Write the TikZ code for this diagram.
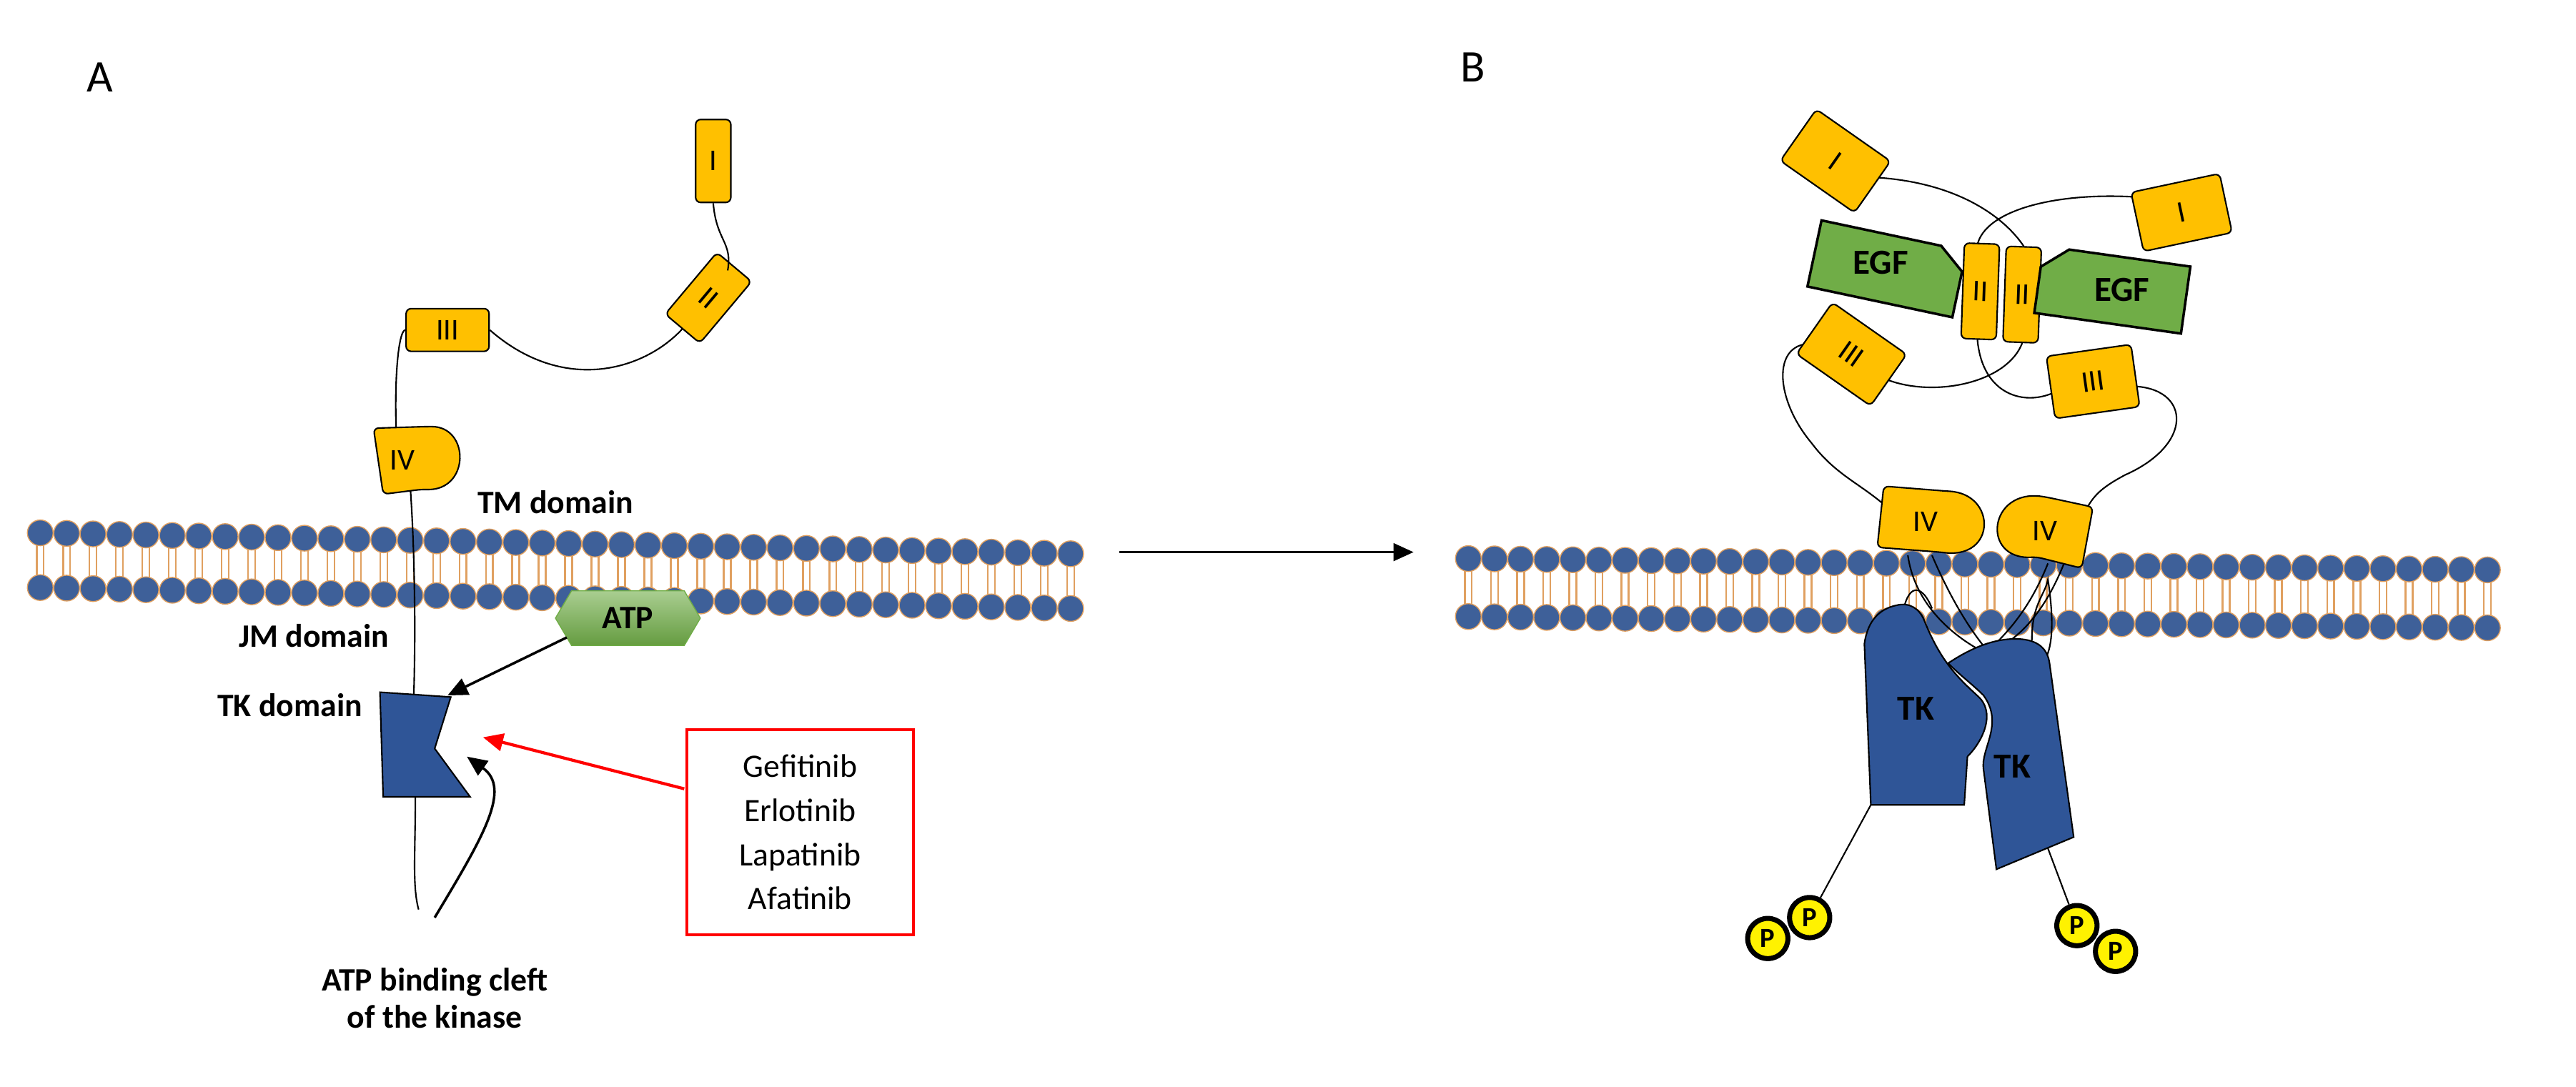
\documentclass[tikz,border=0pt]{standalone}
\usepackage{fontspec}
\setmainfont{Carlito}
\usetikzlibrary{arrows.meta}
\definecolor{dy}{HTML}{FFC000}
\definecolor{hb}{HTML}{3E6099}
\definecolor{ho}{HTML}{E0A060}
\definecolor{tk}{HTML}{2F5597}
\definecolor{eg}{HTML}{70AD47}
\begin{document}
\begin{tikzpicture}[x=0.0225cm,y=-0.0225cm,
  dom/.style={draw,fill=dy,rounded corners=2pt,line width=0.6pt,inner sep=0pt,font=\fontsize{12}{14}\selectfont},
  lab/.style={font=\bfseries\fontsize{13}{15}\selectfont},
  pp/.style={circle,draw,line width=2pt,fill=yellow,minimum size=16pt,inner sep=0pt,font=\bfseries\fontsize{11}{12}\selectfont},
  ln/.style={line width=0.6pt},
  arr/.style={line width=1pt,-{Triangle[length=8pt,width=7pt]}}]
\path[use as bounding box] (0,0) rectangle (1600,675);
% membranes
\foreach \xa/\xb/\ya/\yb/\d/\n in {25/665/331/344/34/39, 912/1545/347/354/36/39}{
  \foreach \i in {0,...,\n}{
    \pgfmathsetmacro\x{\xa+\i/\n*(\xb-\xa)}
    \pgfmathsetmacro\yu{\ya+(\x-\xa)/(\xb-\xa)*(\yb-\ya)}
    \pgfmathsetmacro\yl{\yu+\d}
    \draw[ho,line width=0.7pt] (\x-2.2,\yu) -- (\x-2.2,\yl) (\x+2.2,\yu) -- (\x+2.2,\yl);
    \fill[hb,draw=ho,line width=0.4pt] (\x,\yu) circle[radius=8];
    \fill[hb,draw=ho,line width=0.4pt] (\x,\yl) circle[radius=8];
  }}
% ---------- A ----------
\node[font=\fontsize{18}{20}\selectfont] (lA) at (62,48) {A};
\node[dom,minimum width=14pt,minimum height=33pt] (dI) at (443,100) {I};
\node[dom,minimum width=18pt,minimum height=32pt,rotate=-40] (dII) at (440,185) {II};
\node[dom,minimum width=33pt,minimum height=17pt] (dIII) at (278,205) {III};
\draw[ln] (dI.south) .. controls (445,150) and (455,150) .. (452,168);
\draw[ln] (dII.south) .. controls (400,230) and (350,245) .. (dIII.east);
\draw[ln] (dIII.west) .. controls (248,205) and (245,230) .. (246,265);
\draw[ln] (255,305) .. controls (258,350) and (258,400) .. (257,432);
\draw[ln] (258,495) .. controls (258,530) and (256,550) .. (260,565);
\draw[dom] (232,266) -- (265,265) .. controls (292,265) and (292,305) .. (262,304) -- (238,307) -- cycle;
\node[font=\fontsize{12}{14}\selectfont] (tIV) at (250,286) {IV};
\draw[fill=tk,line width=0.6pt] (236,430) -- (280,433) -- (270,465) -- (292,495) -- (238,495) -- cycle;
\node[lab] (tm) at (345,312) {TM domain};
\node[lab] (jm) at (195,395) {JM domain};
\node[lab] (tkd) at (180,438) {TK domain};
\draw[top color=eg!60,bottom color=eg!90!black,draw=eg] (345,384) -- (355,367) -- (425,367) -- (435,384) -- (425,401) -- (355,401) -- cycle;
\node[lab] (atp) at (390,384) {ATP};
\coordinate (tkR) at (278,432);
\coordinate (tkN) at (300,458);
\coordinate (tkB) at (290,470);
\draw[arr] (352,396) -- (tkR);
\node[draw=red,line width=1.2pt,text width=70pt,align=center,inner sep=10pt,font=\fontsize{13}{17.5}\selectfont] (box) at (497,517) {Gefitinib\\Erlotinib\\Lapatinib\\Afatinib};
\draw[arr,red,line width=1.2pt] (425,490) -- (tkN);
\draw[arr] (270,570) .. controls (300,520) and (318,490) .. (tkB);
\node[lab,align=center] (cleft) at (270,620) {ATP binding cleft\\of the kinase};
\coordinate (m1) at (695,343); \coordinate (m2) at (878,343);
\draw[arr] (m1) -- (m2);
% ---------- B ----------
\node[font=\fontsize{18}{20}\selectfont] (lB) at (915,42) {B};
\draw[ln] (1160,110) .. controls (1215,112) and (1245,135) .. (1257,153);
\draw[ln] (1335,123) .. controls (1280,118) and (1232,130) .. (1228,153);
\draw[ln] (1228,208) .. controls (1230,250) and (1265,255) .. (1285,238);
\draw[ln] (1170,235) .. controls (1200,248) and (1250,238) .. (1257,210);
\draw[ln] (1135,215) .. controls (1100,205) and (1100,245) .. (1125,275) .. controls (1140,295) and (1155,300) .. (1172,315);
\draw[ln] (1320,240) .. controls (1360,238) and (1365,275) .. (1320,295) .. controls (1305,303) and (1300,308) .. (1295,318);
\draw[ln] (1200,345) .. controls (1215,380) and (1230,400) .. (1238,408);
\draw[ln] (1185,345) .. controls (1190,380) and (1220,400) .. (1238,408);
\draw[ln] (1272,350) .. controls (1260,380) and (1245,395) .. (1232,407);
\draw[ln] (1282,350) .. controls (1268,385) and (1250,400) .. (1232,407);
\draw[ln] (1182,380) .. controls (1186,360) and (1195,365) .. (1200,378);
\draw[ln] (1262,398) .. controls (1262,375) and (1270,370) .. (1272,360) .. controls (1275,380) and (1276,400) .. (1270,410);
\node[dom,minimum width=36pt,minimum height=25pt,rotate=-35] (bI1) at (1140,100) {I};
\node[dom,minimum width=36pt,minimum height=24pt,rotate=12] (bI2) at (1355,132) {I};
\node[dom,minimum width=14pt,minimum height=38pt,rotate=-2] (bII1) at (1230,181) {II};
\node[dom,minimum width=14pt,minimum height=38pt,rotate=-2] (bII2) at (1256,183) {II};
\node[dom,minimum width=36pt,minimum height=25pt,rotate=-35] (bIII1) at (1150,220) {III};
\node[dom,minimum width=34pt,minimum height=25pt,rotate=8] (bIII2) at (1300,237) {III};
\begin{scope}[shift={(1172,167)},rotate=-12]
\draw[fill=eg,line width=1pt] (-46,-21) -- (30,-21) -- (46,-8) -- (46,21) -- (-46,21) -- cycle;
\end{scope}
\node[lab,font=\bfseries\fontsize{14}{15}\selectfont] (egf1) at (1168,163) {EGF};
\begin{scope}[shift={(1312,180)},rotate=-8]
\draw[fill=eg,line width=1pt] (-46,-8) -- (-30,-21) -- (46,-21) -- (46,21) -- (-46,21) -- cycle;
\end{scope}
\node[lab,font=\bfseries\fontsize{14}{15}\selectfont] (egf2) at (1318,180) {EGF};
\draw[dom] (1170,302) -- (1208,305) .. controls (1240,307) and (1240,347) .. (1205,343) -- (1166,340) -- cycle;
\node[font=\fontsize{12}{14}\selectfont] (bIV1) at (1196,324) {IV};
\draw[dom] (1300,315) -- (1272,309) .. controls (1235,303) and (1230,348) .. (1265,346) -- (1293,353) -- cycle;
\node[font=\fontsize{12}{14}\selectfont] (bIV2) at (1270,330) {IV};
\draw[fill=tk,line width=0.6pt] (1162,500) -- (1158,400) .. controls (1160,385) and (1168,378) .. (1178,376) .. controls (1186,374) and (1192,378) .. (1195,385) .. controls (1205,410) and (1215,420) .. (1228,432) .. controls (1240,442) and (1232,460) .. (1222,470) -- (1220,500) -- cycle;
\draw[fill=tk,line width=0.6pt] (1210,412) .. controls (1225,402) and (1240,396) .. (1255,397) .. controls (1268,398) and (1272,405) .. (1273,412) -- (1288,520) -- (1240,540) -- (1232,478) .. controls (1230,465) and (1245,450) .. (1232,432) .. controls (1225,425) and (1218,420) .. (1210,412) -- cycle;
\node[lab,font=\bfseries\fontsize{14}{15}\selectfont] (tk1) at (1190,440) {TK};
\node[lab,font=\bfseries\fontsize{14}{15}\selectfont] (tk2) at (1250,476) {TK};
\node[pp] (p1) at (1098,583) {P};
\node[pp] (p2) at (1124,570) {P};
\node[pp] (p3) at (1290,575) {P};
\node[pp] (p4) at (1314,591) {P};
\coordinate (c1) at (1162,500); \coordinate (c2) at (1272,527);
\draw[ln] (c1) -- (p2);
\draw[ln] (c2) -- (p3);
\end{tikzpicture}
\end{document}
